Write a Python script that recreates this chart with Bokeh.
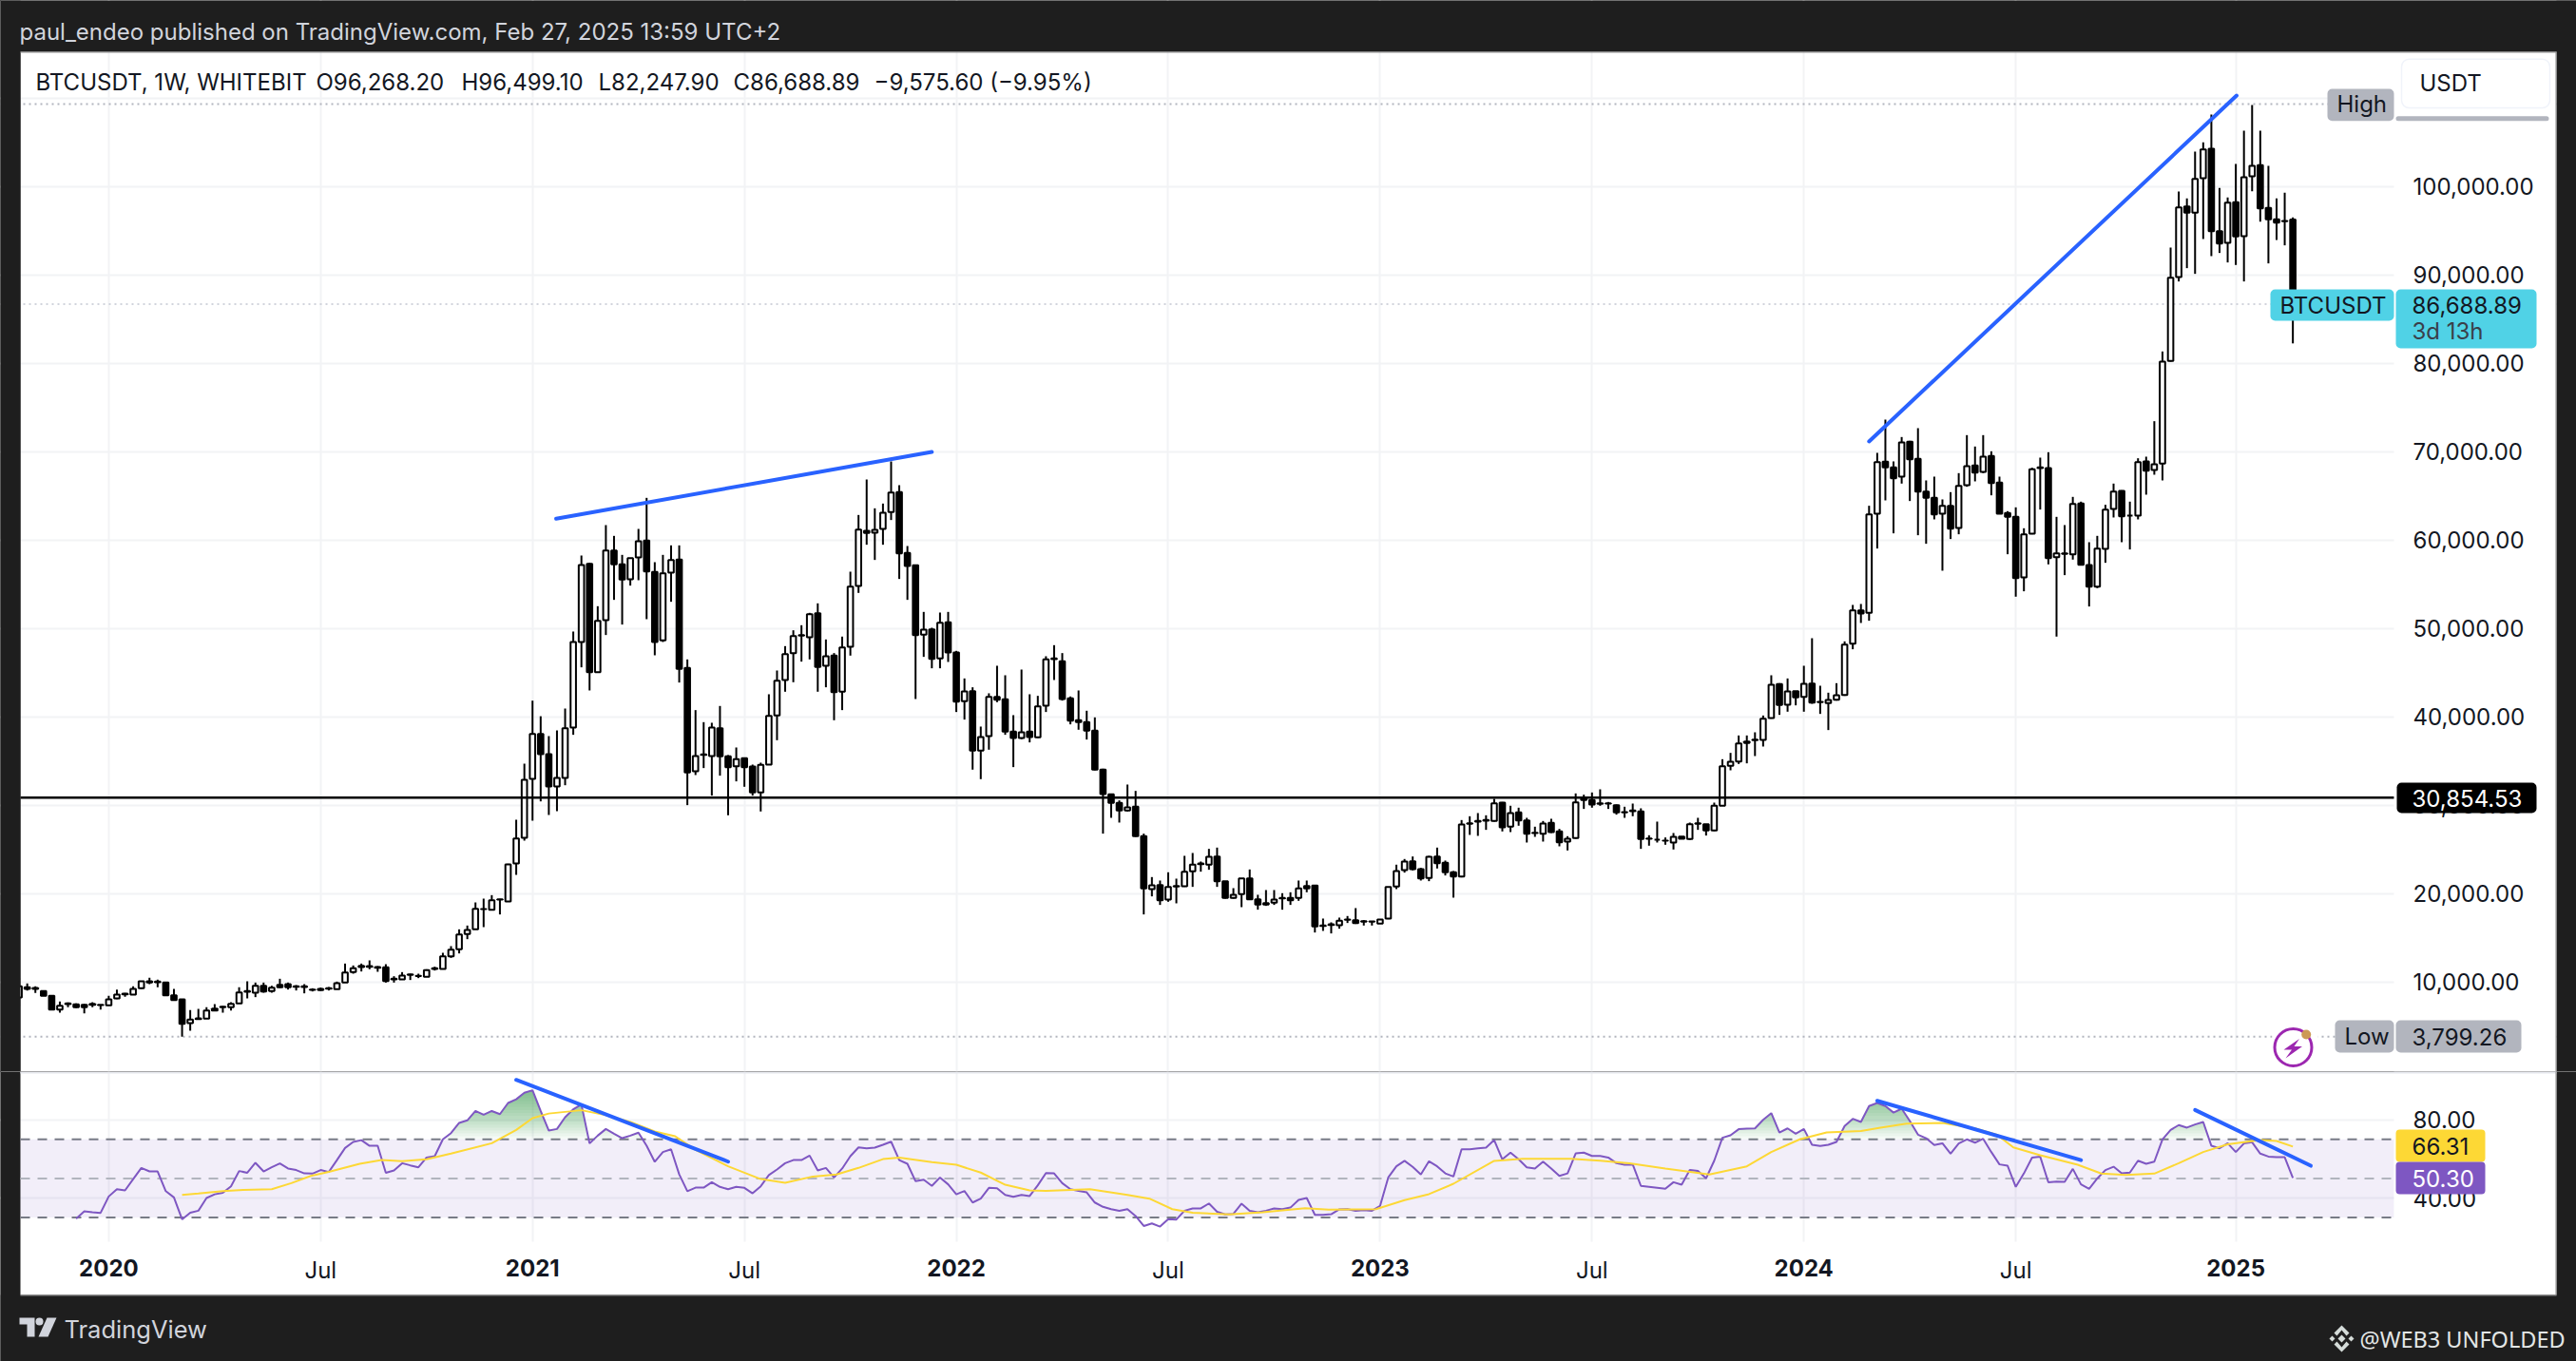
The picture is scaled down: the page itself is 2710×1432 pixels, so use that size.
import numpy as np
from bokeh.plotting import figure
from bokeh.layouts import column
from bokeh.embed import file_html
from bokeh.resources import INLINE
from bokeh.models import (Range1d, FixedTicker, NumeralTickFormatter, Span, BoxAnnotation, Label,
                          PolyAnnotation)

first_bar = -11
open_ = [8249,9396,9324,8965,8428,6887,7496,7460,7424,7424,7388,
7352,8141,8607,8571,9288,10076,10040,9933,8500,8034,
5346,5811,5847,6994,7138,7138,7568,8894,8786,9575,
8981,9682,9754,9503,9503,9145,9216,9288,9180,9933,
11116,11689,11797,11689,11653,10363,10291,10794,10686,10578,
11474,11474,12908,13696,15417,15954,18248,18176,19323,19108,
23410,26313,32979,38065,35775,32119,33087,38789,48466,57318,
45061,50938,58823,57246,55562,58035,59935,56386,48645,56315,
57784,45526,33843,35707,35563,38717,35527,34416,35312,34381,
31441,34595,40151,44165,47211,49182,49003,51727,45778,46925,
42839,47928,54809,61045,60830,61260,63160,65418,58537,57139,
49290,49899,46602,50688,47283,41764,42910,36172,37822,42265,
41979,38323,37606,38323,37679,41262,46530,46279,42086,39613,
39398,38430,34022,31226,30259,29397,29827,26494,20508,20974,
19326,20795,20832,22516,23340,23269,24200,21405,19505,19935,
21726,19362,18932,18967,19469,19505,19505,20867,20903,16387,
16459,16423,17032,16996,16889,16853,16603,17175,20795,22659,
23663,22767,21763,24200,23483,22408,21942,27892,28143,28250,
28214,30293,27569,29182,28286,26853,26781,28000,27032,25884,
26279,30723,30580,30150,30185,30006,29218,29325,29289,26208,
26100,25992,25777,26458,26172,27892,27856,27139,29935,34450,
34952,37210,37353,37389,39862,43697,41368,42909,42264,43769,
41690,41547,41941,42479,48289,52052,51764,62983,68860,68215,
67176,71118,69183,65491,64775,62983,63879,61370,66208,68430,
67714,69506,66495,63054,62624,55779,60725,68144,68144,58073,
58431,58395,64129,57177,54740,59004,63520,65563,62768,62768,
68896,67928,68646,80261,89758,97751,97034,100941,104274,94955,
93629,98217,94382,101155,102410,97572,96282,96102,96268.20]
close = [9503,9216,9216,8428,6887,7317,7568,7138,7138,7532,7424,
8034,8571,8679,9216,10076,9933,9969,8500,7962,5274,
5740,5883,6779,6779,7209,7532,8822,8965,9575,8929,
9360,9396,9396,9467,9431,9109,9073,9252,9861,11080,
11546,11833,11725,11618,10112,10291,10722,10865,10680,11331,
11546,12908,13660,15381,15883,18284,18240,19251,19360,23302,
26237,32872,38065,35775,32119,33087,38710,48466,57175,45061,
50867,58823,57246,55526,57963,59863,56458,48466,56243,57748,
45419,33700,35563,35742,38789,35527,34309,35204,34309,31441,
34559,40115,44093,47104,49146,49254,51620,45634,46853,42803,
47856,54738,61189,60795,61153,63088,65382,58501,57067,49254,
49863,46566,50652,47283,41728,42875,36172,37714,42265,41943,
38323,37606,38251,37714,41190,46494,46601,42014,39577,39398,
38430,34022,31263,30259,29400,29756,26494,20580,20939,19254,
20759,20867,22480,23269,23412,24165,21405,19505,19863,21726,
19362,18753,18753,19326,19505,19254,20580,20580,16279,16350,
16530,16925,17068,16674,16817,16820,17068,20759,22551,23627,
22767,21726,24165,23447,22408,21942,27820,27963,28214,28322,
30221,27498,29110,28286,26781,26889,27928,26960,25813,26208,
30329,30580,30078,30221,30221,29182,29190,29397,26172,26243,
26100,25980,26422,26208,27856,27963,27139,29935,34414,34916,
36995,37031,37425,39790,43625,41332,42873,42192,43733,41619,
41654,41905,42443,48177,52052,51693,62911,68825,68215,66997,
71047,69147,65491,64775,62911,63879,61298,66137,68359,67642,
69434,66459,62983,62624,55707,60653,68000,68215,57965,58503,
58503,64094,57213,54740,59040,63449,65491,62696,62768,68825,
67857,68574,80189,89687,97643,97034,100869,104202,94955,93558,
98181,94346,101048,102338,97536,96282,95923,96065,86688.89]
high = [10471,9826,9503,9037,8428,7783,7675,7568,7532,7711,7424,
8428,9145,8750,9503,10112,10471,10256,9933,9216,8034,
6815,6958,7138,7496,7281,7711,9396,10076,9933,9933,
9575,10363,9933,9646,9754,9288,9360,9431,10041,12083,
11868,12083,12442,11797,12012,10650,11116,10937,10937,11438,
11725,13302,14055,15954,16384,18999,19431,19825,19395,23373,
28356,34700,41829,40067,37820,38463,40937,49649,58250,57426,
52516,61691,60472,58322,57963,61260,64773,57497,58322,59397,
59397,46494,40760,39398,39327,41227,35671,36531,35383,34596,
34811,42552,45240,47999,49791,50365,51763,52838,48753,47211,
49075,56422,62837,66852,63590,64128,68894,66206,59325,57139,
51870,50078,51799,51870,47462,44344,43341,38897,42660,45778,
44702,40187,45347,42552,42373,46853,48107,47211,42301,42982,
40689,39936,34130,31226,30546,32336,31619,26781,21870,21476,
22409,21691,24272,24595,23627,25060,25204,21405,20616,21726,
22731,19863,20401,20401,20043,20150,21476,21476,20975,17176,
16745,17283,17462,18358,16996,16853,17068,20759,23269,23914,
24200,22910,24272,25204,23735,22552,28321,28751,29110,28859,
30723,30365,29935,29719,28573,27570,28214,28465,27318,26495,
31333,31189,31440,31798,30365,30078,29827,30185,29648,26602,
28143,26350,26853,26458,28035,28573,27856,30293,35203,35920,
37891,37891,38249,40149,44701,43805,44342,42909,45776,48894,
43518,42729,43805,48536,52661,52768,63879,69864,73627,68896,
71656,71226,72659,66746,67176,64596,65420,67570,71871,70581,
71871,70043,67176,63269,63699,61334,68179,69326,69936,62624,
61693,64883,64345,59757,60474,63987,66388,65635,64345,69254,
69434,73448,81335,93092,99435,98647,103951,104990,108144,99830,
98754,102553,106317,109220,106317,102338,98647,99292,96499.10]
low = [7245,9037,8750,8428,6887,6528,7138,7066,6456,7138,6887,
7352,8069,8320,8571,9216,9754,9395,8500,7962,3799.26,
4485,5740,5847,6707,6528,6779,7568,8141,8285,8786,
8786,9324,9145,9037,8714,8929,9001,9037,9180,9933,
10937,11187,11438,11152,9933,9933,10256,10220,10435,10578,
11295,11474,12729,13230,14843,15954,16205,18176,17639,19108,
22118,25990,28248,30431,28893,29323,32259,37965,45599,42982,
44989,49254,53232,50437,54845,55454,51046,46960,48466,53017,
43878,30008,33413,34201,31083,33342,28861,32696,32087,31083,
29291,34595,37355,42839,43914,46244,46494,42839,43341,39613,
40760,46925,54021,59469,57748,59469,62264,55598,53232,42014,
46781,45491,45491,46207,40545,39685,34022,32947,36280,41656,
37965,34309,37463,37105,37606,40545,44165,41835,39147,38538,
37427,33950,26783,28574,28036,29289,26422,17642,19684,18717,
19075,18896,20759,20759,22480,22695,20759,19433,19433,18466,
19326,18179,18610,18717,18179,18717,19182,20150,15598,15778,
15491,16029,16673,16566,16387,16387,16603,17103,20508,22372,
22623,21476,21405,22838,22050,19541,21834,26638,26530,27210,
28143,27032,26960,27677,25777,26422,25884,26852,25347,24881,
26208,29577,29720,29935,29577,28931,28573,28752,25060,25419,
25777,25527,24988,26208,26064,27210,26565,27067,29935,33949,
34666,34737,35561,36637,39790,40221,40579,41296,40579,41475,
40328,38500,41833,42371,47643,50618,50869,59040,64488,60761,
66388,64416,60546,59578,62337,56531,60116,60653,66029,66638,
67570,65061,62983,58395,53593,54202,60653,63449,57248,49077,
56030,57786,57213,52481,54560,57427,62553,59757,58933,62337,
65133,67391,66746,80189,89257,90762,90117,94059,92124,92482,
91407,91120,89257,99471,96030,91300,93952,93342,82247.90]

rsi_first = -4
rsi = [29.5,33.2,32.7,32.4,40.8,44.5,43.9,49.7,55.4,53.6,53.6,43.5,40.3,29.1,32.5,33.5,40.0,41.9,42.7,46.0,
53.8,52.9,58.0,53.6,55.7,57.7,55.1,54.3,52.6,52.5,54.3,53.3,59.4,65.6,68.7,69.6,66.7,66.7,52.9,54.1,
57.8,56.7,55.7,60.7,61.4,70.0,73.2,78.4,79.7,84.5,82.6,84.5,82.9,88.6,90.5,93.8,95.1,84.5,74.5,75.3,
81.3,85.4,87.8,67.9,71.9,75.3,72.9,70.6,71.9,73.4,66.7,58.5,63.5,64.9,52.1,43.5,45.3,45.3,48.1,45.7,44.5,45.7,
45.2,42.4,46.0,51.7,54.6,57.8,59.4,59.4,61.7,54.1,55.4,50.5,55.1,61.4,65.9,65.4,65.8,67.2,68.8,59.4,57.5,48.6,
49.4,46.2,50.5,47.0,41.9,43.6,37.7,39.7,45.2,45.0,41.6,40.6,41.6,41.0,46.5,52.8,52.6,47.6,44.5,43.7,42.9,37.7,
35.5,34.3,33.5,34.3,30.8,25.7,27.0,25.4,29.2,29.0,33.5,34.7,34.7,37.2,33.0,31.6,31.9,37.1,33.5,32.7,33.5,34.7,
34.3,35.1,39.0,40.0,31.4,31.4,31.7,34.2,34.3,33.5,33.8,33.5,36.0,50.5,56.2,59.0,55.9,52.0,58.8,56.2,52.6,51.0,64.9,
64.9,65.4,65.8,69.6,59.8,63.2,59.8,55.7,55.1,58.6,55.1,51.3,52.6,62.8,63.2,61.5,61.5,60.7,57.8,57.0,57.2,46.2,
45.7,45.2,44.7,48.1,46.8,54.3,53.9,50.1,59.1,70.8,72.1,75.2,75.5,75.6,80.0,83.4,73.5,75.6,72.9,75.3,67.2,66.6,
67.2,68.7,76.8,80.5,78.9,87.0,88.6,87.0,83.7,85.7,79.4,72.4,70.6,67.1,68.0,62.7,67.9,70.0,68.3,70.3,63.5,57.2,
56.5,45.7,52.6,60.7,61.1,48.0,48.4,48.3,54.9,47.0,44.7,50.0,54.3,56.0,52.6,53.0,59.1,57.5,58.6,70.0,74.8,77.3,
76.0,77.6,78.9,66.7,65.4,68.0,63.5,67.9,68.5,62.7,61.2,60.9,60.9,50.3]

ma_bar = [9,11,14,16.5,20,22.4,24.8,27,30.8,33.5,36,39,42,47,50,52,54,58,61,64,67,69.5,72,76,
80,83,86.4,89.3,92,95,97,101,104,107,110,113,115,120.4,125,127.7,130.5,133,137.5,141.6,146.8,149.7,155.5,159,162,165,
170,173.5,179.4,183,186.6,191,196.4,201,204,207.5,210.8,215,217.4,220.6,225,229,231.7,233.7,237,241.6,244.5,247.5,251,254,257,260,264,266,268]
ma_val = [41.6,42.3,43.5,44.2,44.5,47.6,51.3,53.4,57.5,59.4,58.9,59.8,62.7,68.0,74.8,80.8,83.2,84.9,82.4,78.9,74.0,71.6,64.6,56.2,
49.7,47.8,51.0,52.0,55.4,59.9,60.7,58.3,57.0,53.0,46.8,43.9,43.7,44.5,41.6,39.7,34.3,32.5,31.6,32.7,34.8,34.0,34.3,38.9,42.0,47.3,
59.0,60.1,60.1,59.1,57.8,55.1,52.0,56.2,63.5,70.0,73.5,74.3,76.0,78.0,78.4,75.6,72.4,65.9,61.9,57.0,52.5,51.8,52.5,57.8,63.5,67.5,69.6,69.2,66.31]

price_ticks = [10000,20000,30000,40000,50000,60000,70000,80000,90000,100000]
price_grid = price_ticks + [110000]
rsi_ticks = [40,80]
time_ticks = [0,26,52,78,104,130,156,182,208,234,261]
time_labels = ["2020","Jul","2021","Jul","2022","Jul","2023","Jul","2024","Jul","2025"]

price_trends = [([54.9,101.0],[62410,69970]), ([216.0,261.1],[71153,110290])]
rsi_trends = [([50,76],[100.4,58.6]), ([217,242],[89.7,59.4]), ([256,270.2],[85.0,56.5])]

level_price = 30854.53
high_price = 109322
low_price = 3799.26
last_price = 86688.89

assert len(open_) == len(close) == len(high) == len(low) == 280, (len(open_),len(close),len(high),len(low))
assert len(ma_bar) == len(ma_val)
bars = list(range(first_bar, first_bar+len(close)))
rsi_bars = list(range(rsi_first, rsi_first+len(rsi)))

DARK = "#1e1e1e"; GRID = "#f2f3f5"; TXT = "#131722"; FONT = "Inter"
W, H1, H2 = 2710, 1127, 305
PANE_L, PANE_R, PANE_END = 21, 2518, 2689
x_range = Range1d(-13.284, 302.8)
x_pane0, x_pane1 = -10.835, 280.4

def style(p):
    p.background_fill_color = "white"
    p.border_fill_color = DARK
    p.outline_line_color = None
    p.toolbar.logo = None

def box(p, x0, y0, x1, y1, color, radius=0, level="annotation", line=None, lw=1, alpha=1):
    p.add_layout(BoxAnnotation(left=x0, right=x1, top=y0, bottom=y1, left_units="canvas", right_units="canvas",
                               top_units="canvas", bottom_units="canvas", fill_color=color, fill_alpha=alpha,
                               line_color=line, line_width=lw, line_alpha=1 if line else 0,
                               border_radius=radius, level=level, editable=False))

def lab(p, x, y, text, color=TXT, size=24, align="left", style_="normal", font=FONT):
    p.add_layout(Label(x=x, y=y, x_units="canvas", y_units="canvas", text=text, text_color=color,
                       text_font_size=f"{size}px", text_align=align, text_baseline="middle",
                       text_font=font, text_font_style=style_, level="overlay"))

def poly(p, xs, ys, color):
    p.add_layout(PolyAnnotation(xs=xs, ys=ys, xs_units="canvas", ys_units="canvas", fill_color=color,
                                fill_alpha=1, line_alpha=0, level="overlay", editable=False))

def quiet_axis(a, standoff):
    a.axis_line_color = None; a.major_tick_line_color = None; a.minor_tick_line_color = None
    a.major_tick_out = 0; a.major_tick_in = 0
    a.major_label_text_font = FONT; a.major_label_text_font_size = "24px"; a.major_label_text_color = TXT
    a.major_label_standoff = standoff

# ---------------- price pane
pr = figure(width=W, height=H1, x_range=x_range, y_range=Range1d(-140, 121047), output_backend="svg",
            toolbar_location=None, x_axis_location=None, y_axis_location="right",
            min_border_left=0, min_border_right=0, min_border_top=0, min_border_bottom=0, tools="")
style(pr)
pr.xgrid.ticker = FixedTicker(ticks=time_ticks)
pr.ygrid.ticker = FixedTicker(ticks=price_grid)
for g in (pr.xgrid, pr.ygrid):
    g.grid_line_color = GRID; g.grid_line_width = 2
ax = pr.yaxis[0]
ax.ticker = FixedTicker(ticks=price_ticks)
ax.formatter = NumeralTickFormatter(format="0,0.00")
quiet_axis(ax, 2538-W)

for y, col_, in ((high_price, "#b2b5be"), (low_price, "#b2b5be"), (last_price, "#d1d4dc")):
    pr.add_layout(Span(location=y, dimension="width", line_color=col_, line_width=2, line_dash="2 4", level="underlay"))

# chrome masks
box(pr, PANE_R, 54, PANE_END, H1, "white", level="underlay")
box(pr, 0, 0, W, 54, DARK, level="underlay")
box(pr, PANE_END, 0, W, H1, DARK, level="underlay")
box(pr, 0, 0, PANE_L, H1, DARK, level="underlay")

b = np.array(bars, dtype=float); o = np.array(open_); c = np.array(close)
up = c >= o
pr.segment(b, high, b, low, line_color="black", line_width=2)
pr.vbar(b[up], 0.66, o[up], c[up], fill_color="white", line_color="black", line_width=2)
pr.vbar(b[~up], 0.66, o[~up], c[~up], fill_color="black", line_color="black", line_width=2)
pr.segment([x_pane0], [level_price], [x_pane1], [level_price], line_color="black", line_width=2.5)
for xs, ys in price_trends:
    pr.line(xs, ys, line_color="#2962ff", line_width=4, line_cap="round")

box(pr, 0, 54, PANE_L, H1, DARK)  # covers the partly hidden first candle
box(pr, PANE_L, 54, PANE_END, 55, "#8a8a8a")
box(pr, PANE_END-1, 54, PANE_END, H1, "#8a8a8a")
lab(pr, 20, 33, "paul_endeo published on TradingView.com, Feb 27, 2025 13:59 UTC+2", "#d1d4dc", 24)
for x, t in ((37,"BTCUSDT, 1W, WHITEBIT"),(332,"O96,268.20"),(485,"H96,499.10"),(629,"L82,247.90"),(771,"C86,688.89"),(919,"\u22129,575.60 (\u22129.95%)")):
    lab(pr, x, 86, t, TXT, 24)
# high
box(pr, 2520, 121.7, 2681, 126.7, "#b2b5be", radius=3)
box(pr, 2448, 93, 2518, 126.7, "#b2b5be", radius=5)
lab(pr, 2458, 109, "High")
box(pr, 2526, 61.7, 2682, 113, "white", radius=8, line="#f0f3fa", lw=1.5)
lab(pr, 2545, 87, "USDT")
# last
box(pr, 2388, 304, 2518, 337, "#50d2e6", radius=5)
lab(pr, 2398, 320.5, "BTCUSDT")
box(pr, 2520, 304, 2668, 366, "#50d2e6", radius=5)
lab(pr, 2537, 320.5, "86,688.89")
lab(pr, 2537, 348, "3d 13h", "#3a3f4a")
# horizontal level
box(pr, 2521, 823, 2668, 855, "black", radius=5)
lab(pr, 2537, 839, "30,854.53", "white")
# low
box(pr, 2390, 1078, 2438, 1124, "white")
box(pr, 2456, 1073, 2518, 1107, "#b2b5be", radius=5)
lab(pr, 2466, 1090, "Low")
box(pr, 2520, 1073, 2652, 1107, "#b2b5be", radius=5)
lab(pr, 2537, 1090, "3,799.26")
box(pr, 2392.5, 1082, 2431.5, 1121, "white", radius=20, line="#9c27b0", lw=3)
poly(pr, [2418.5,2402,2410.5,2404,2421.5,2413], [1092.5,1104,1104,1113,1100.5,1100.5], "#9c27b0")
box(pr, 2420.7, 1083, 2430.7, 1093, "#cc9955", radius=5)

# ---------------- RSI pane
rs = figure(width=W, height=H2, x_range=x_range, y_range=Range1d(-43.57, 104.64), output_backend="svg",
            toolbar_location=None, y_axis_location="right",
            min_border_left=0, min_border_right=0, min_border_top=0, min_border_bottom=0, tools="")
style(rs)
def ry(y): return y-1127
rs.xgrid.ticker = FixedTicker(ticks=time_ticks)
rs.ygrid.ticker = FixedTicker(ticks=rsi_ticks)
for g in (rs.xgrid, rs.ygrid):
    g.grid_line_color = GRID; g.grid_line_width = 2
ya = rs.yaxis[0]
ya.ticker = FixedTicker(ticks=rsi_ticks)
ya.formatter = NumeralTickFormatter(format="0.00")
quiet_axis(ya, 2538-W)
xa = rs.xaxis[0]
xa.ticker = FixedTicker(ticks=[t for t, l in zip(time_ticks, time_labels) if l != "Jul"])
xa.major_label_overrides = {t: l for t, l in zip(time_ticks, time_labels) if l != "Jul"}
quiet_axis(xa, 1324-1432)
xa.major_label_text_font_style = "bold"

# chrome masks
box(rs, PANE_R, 0, PANE_END, ry(1362), "white", level="underlay")
box(rs, PANE_L, ry(1306), PANE_END, ry(1362), "white", level="underlay")
box(rs, 0, ry(1362), W, H2, DARK, level="underlay")
box(rs, PANE_END, 0, W, H2, DARK, level="underlay")
box(rs, 0, 0, PANE_L, H2, DARK, level="underlay")
rs.add_layout(BoxAnnotation(left=x_pane0, right=x_pane1, bottom=30, top=70, fill_color="#7e57c2", fill_alpha=0.1,
                            line_alpha=0, level="underlay", editable=False))
rs.multi_line([[x_pane0, x_pane1]]*2, [[70,70],[30,30]], line_color="#787b86", line_width=2, line_dash="10 8")
rs.line([x_pane0, x_pane1], [50,50], line_color="#b2b5be", line_width=2, line_dash="10 8")

for t, l in zip(time_ticks, time_labels):
    if l == "Jul":
        rs.add_layout(Label(x=t, y=ry(1336), x_units="data", y_units="canvas", text=l, text_color=TXT,
                            text_font_size="24px", text_font=FONT, text_align="center", text_baseline="middle"))

xf = np.linspace(rsi_first, 268, 2721)
rf = np.interp(xf, rsi_bars, rsi)
for t in np.arange(70, 96, 1.5):
    rs.varea(xf, np.full_like(xf, t), np.maximum(rf, t), fill_color="#43a047", fill_alpha=0.05)
rs.line(rsi_bars, rsi, line_color="#7e57c2", line_width=2)
rs.line(ma_bar, ma_val, line_color="#fdd835", line_width=2)
for xs, ys in rsi_trends:
    rs.line(xs, ys, line_color="#2962ff", line_width=4, line_cap="round")

box(rs, PANE_L, 0, PANE_END, 2, "#e6e8ee")
box(rs, 2520, ry(1188), 2614, ry(1222), "#fdd835", radius=4)
lab(rs, 2537, ry(1205), "66.31")
box(rs, 2520, ry(1222), 2614, ry(1256), "#7e57c2", radius=4)
lab(rs, 2537, ry(1239), "50.30", "white")
box(rs, PANE_L, ry(1362), PANE_END, ry(1363), "#8a8a8a")
box(rs, PANE_END-1, 0, PANE_END, ry(1362), "#8a8a8a")

# footer
poly(rs, [20,36,36,28,28,20], [ry(1386),ry(1386),ry(1406),ry(1406),ry(1393),ry(1393)], "#d1d4dc")
box(rs, 37, ry(1386), 45, ry(1394), "#d1d4dc", radius=4)
poly(rs, [49,59,50,40], [ry(1386),ry(1386),ry(1406),ry(1406)], "#d1d4dc")
lab(rs, 67, ry(1398), "TradingView", "#d1d4dc", 25.5)
lab(rs, 2482, ry(1408), "@WEB3 UNFOLDED", "#e3e6e6", 23.5, font="Noto Sans")
for cx, cy, r in ((2463,1408,4),(2453,1408,3),(2473,1408,3)):
    poly(rs, [cx-r,cx,cx+r,cx], [ry(cy),ry(cy-r),ry(cy),ry(cy+r)], "#d5dcd9")
poly(rs, [2455,2463,2471,2468,2463,2458], [ry(1402),ry(1394),ry(1402),ry(1405),ry(1399),ry(1405)], "#d5dcd9")
poly(rs, [2455,2463,2471,2468,2463,2458], [ry(1414),ry(1422),ry(1414),ry(1411),ry(1417),ry(1411)], "#d5dcd9")

page = column(pr, rs, spacing=0)
html = file_html(page, INLINE).replace("</head>", "<style>html,body{background:%s;overflow:hidden}</style></head>" % DARK, 1)
open("out.html", "w").write(html)
